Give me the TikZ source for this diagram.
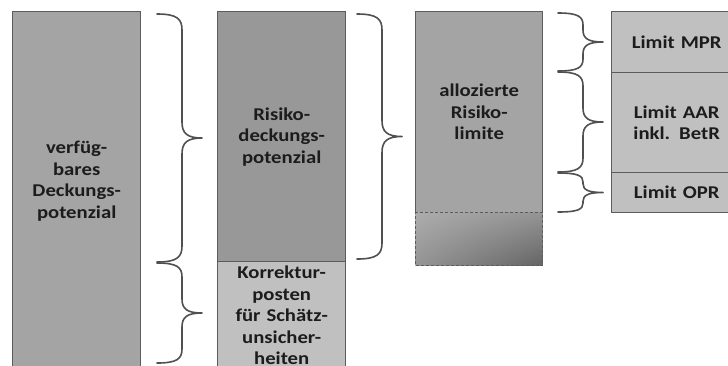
\documentclass[tikz,border=0pt]{standalone}
\usepackage{fontspec}
\setmainfont{Carlito}[FakeStretch=1.15]
\usetikzlibrary{positioning,calc,shadings}

\definecolor{fillmid}{RGB}{164,164,164}
\definecolor{filldeep}{RGB}{152,152,152}
\definecolor{filllight}{RGB}{192,192,192}
\definecolor{linegray}{RGB}{92,92,92}
\definecolor{bracegray}{RGB}{80,80,80}
\definecolor{textgray}{RGB}{28,28,28}
\definecolor{shadetop}{RGB}{172,172,172}
\definecolor{shademid}{RGB}{148,148,148}
\definecolor{shadelow}{RGB}{100,100,100}

\tikzset{
  box/.style={rectangle, draw=linegray, line width=1.4pt, anchor=north west, inner sep=0pt},
  boxtext/.style={text width=124pt, align=center, inner sep=0pt, text=textgray,
    font=\bfseries\fontsize{18}{21.5}\selectfont},
  bracket/.style={draw=bracegray, line width=1.6pt, line join=round, line cap=round},
}

% curly brace from #1 down to #2, tip to the right, #3 = corner size
\newcommand{\curlybrace}[3]{%
  \draw[bracket] let \p1=(#1), \p2=(#2), \p3=($(#1)!0.5!(#2)$) in
    (\p1) .. controls (\x1+20pt,\y1) and (\x1+25pt,\y1-0.3*#3) .. (\x1+25pt,\y1-#3)
    -- (\x1+25pt,\y3+#3) .. controls (\x1+25pt,\y3+0.3*#3) and (\x1+30pt,\y3) .. (\x1+45pt,\y3)
    .. controls (\x1+30pt,\y3) and (\x1+25pt,\y3-0.3*#3) .. (\x1+25pt,\y3-#3)
    -- (\x1+25pt,\y2+#3) .. controls (\x1+25pt,\y2+0.3*#3) and (\x1+20pt,\y2) .. (\p2);
}

\begin{document}
\begin{tikzpicture}[x=1pt,y=-1pt]

  \useasboundingbox (0,0) rectangle (728,365);

  % columns
  \begin{scope}[every node/.style={box}]
    \node[fill=fillmid, minimum width=128pt, minimum height=365pt] (verf) at (12,11) {};
    \node[fill=filldeep, minimum width=128pt, minimum height=250pt, boxtext, text width=128pt] (rdp) at (217,11)
      {Risiko-\\deckungs-\\potenzial};
    \node[fill=filllight, minimum width=128pt, minimum height=120pt] (korr) at (217,261) {};
    \node[fill=fillmid, minimum width=127pt, minimum height=201pt, boxtext, text width=127pt] (alz) at (415,11)
      {allozierte\\Risiko-\\limite};
    \node[densely dashed, shade, upper left=shadetop, upper right=shademid,
      lower left=shademid, lower right=shadelow,
      minimum width=127pt, minimum height=53pt] (rest) at (415,212) {};
    \node[fill=filllight, minimum width=130pt, minimum height=61pt, boxtext, text width=130pt] (mpr) at (611,11)
      {Limit MPR};
    \node[fill=filllight, minimum width=130pt, minimum height=100pt, boxtext, text width=130pt] (aar) at (611,72)
      {Limit AAR\\inkl. BetR};
    \node[fill=filllight, minimum width=130pt, minimum height=40pt, boxtext, text width=130pt] (opr) at (611,172)
      {Limit OPR};
  \end{scope}

  \node[boxtext, below=130pt of verf.north] (verftxt) {verfüg-\\bares\\Deckungs-\\potenzial};
  \node[boxtext, below=5pt of korr.north] (korrtxt) {Korrektur-\\posten\\für Schätz-\\unsicher-\\heiten};

  % brace ends
  \coordinate (b1t) at (157,14);
  \coordinate (b1b) at (157,262);
  \coordinate (b2t) at (157,263);
  \coordinate (b2b) at (157,363);
  \coordinate (b3t) at (357,14);
  \coordinate (b3b) at (357,259);
  \coordinate (b4t) at (558,13);
  \coordinate (b4b) at (558,71);
  \coordinate (b5t) at (558,72);
  \coordinate (b5b) at (558,172);
  \coordinate (b6t) at (558,173);
  \coordinate (b6b) at (558,212);

  \curlybrace{b1t}{b1b}{16pt}
  \curlybrace{b2t}{b2b}{14pt}
  \curlybrace{b3t}{b3b}{16pt}
  \curlybrace{b4t}{b4b}{12pt}
  \curlybrace{b5t}{b5b}{14pt}
  \curlybrace{b6t}{b6b}{9pt}

\end{tikzpicture}
\end{document}
